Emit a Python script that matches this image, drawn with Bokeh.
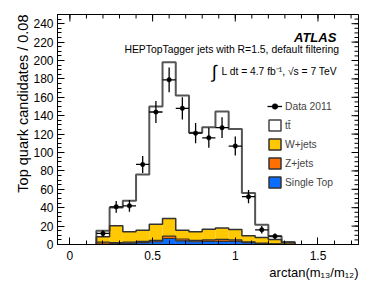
import numpy as np
from bokeh.plotting import figure
from bokeh.models import (Range1d, FixedTicker, Label, Legend, LegendItem,
                          NumeralTickFormatter, Title)
from bokeh.embed import file_html
from bokeh.resources import INLINE

# ---------------- data ----------------
bin_edges = [0.16, 0.24, 0.32, 0.40, 0.48, 0.56, 0.64, 0.72, 0.80, 0.88, 0.96, 1.04, 1.12, 1.20, 1.28, 1.36]
single_top = [0.5, 1.0, 1.5, 2.0, 3.0, 6.5, 4.0, 3.0, 3.5, 3.5, 3.5, 2.0, 1.0, 0.5, 0.2]
z_jets = [2.0, 1.0, 1.0, 1.5, 1.5, 2.5, 2.0, 1.5, 1.5, 2.0, 1.5, 1.0, 0.5, 0.3, 0.1]
w_jets = [5.8, 18.3, 11.3, 12.1, 17.5, 19.3, 9.6, 9.3, 11.7, 12.3, 11.3, 6.4, 6.1, 4.6, 1.9]
ttbar = [6.7, 20.0, 33.7, 60.4, 128.0, 169.7, 146.4, 107.7, 110.8, 126.7, 109.2, 46.6, 13.9, 3.6, 0.5]
data_2011 = [12, 41, 42, 87, 144, 179, 148, 121, 116, 127, 107, 52, 16, 9]

x_major_ticks = [0, 0.5, 1.0, 1.5]
x_minor_ticks = [round(0.1 * i, 1) for i in range(0, 18)]
y_major_ticks = [0, 20, 40, 60, 80, 100, 120, 140, 160, 180, 200, 220, 240]
y_minor_ticks = list(range(0, 251, 5))

x_title = "arctan(m\u2081\u2083/m\u2081\u2082)"
y_title = "Top quark candidates / 0.08"
legend_labels = ["Data 2011", "t\u0074\u0304", "W+jets", "Z+jets", "Single Top"]
colors = {"ttbar": "#ffffff", "w": "#ffc800", "z": "#ff7000", "st": "#0b6dff"}

FONT = "Liberation Sans"
X0, X1, Y0, Y1 = -0.075, 1.745, 0.0, 250.0

# ---------------- figure ----------------
p = figure(width=382, height=287, output_backend="svg", toolbar_location=None,
           x_range=Range1d(X0, X1), y_range=Range1d(Y0, Y1),
           min_border_left=57, min_border_right=24, min_border_top=14, min_border_bottom=43)
p.xgrid.visible = False
p.ygrid.visible = False
p.outline_line_color = "black"
p.outline_line_width = 1
p.background_fill_color = "white"
p.border_fill_color = "white"

edges = np.array(bin_edges)
lefts, rights = edges[:-1], edges[1:]
c1 = np.array(single_top)
c2 = c1 + np.array(z_jets)
c3 = c2 + np.array(w_jets)
c4 = c3 + np.array(ttbar)


def step_path(vals):
    xs, ys = [edges[0]], [0.0]
    for i, v in enumerate(vals):
        xs += [edges[i], edges[i + 1]]
        ys += [v, v]
    xs.append(edges[-1]); ys.append(0.0)
    return xs, ys


layers = [(c4, colors["ttbar"], "#555555", 2.0),
          (c3, colors["w"], "#333333", 1.5),
          (c2, colors["z"], "#333333", 1.2),
          (c1, colors["st"], "#333333", 1.2)]
for vals, fc, lc, lw in layers:
    p.quad(left=lefts, right=rights, bottom=0, top=vals, fill_color=fc, line_color=None)
for vals, fc, lc, lw in layers:
    xs, ys = step_path(vals)
    p.line(xs, ys, line_color=lc, line_width=lw)

# data points
nd = len(data_2011)
xc = (lefts[:nd] + rights[:nd]) / 2
yd = np.array(data_2011, dtype=float)
err = np.sqrt(yd)
vseg = p.segment(x0=xc, y0=yd - err, x1=xc, y1=yd + err, line_color="black", line_width=1.3)
hseg = p.segment(x0=lefts[:nd], y0=yd, x1=rights[:nd], y1=yd, line_color="black", line_width=1.3)
dots = p.scatter(xc, yd, size=4.5, marker="circle", fill_color="black", line_color="black", line_width=0.5)

# legend swatches (drawn off-range so only the legend shows them)
def swatch(fc, lc):
    return p.quad(left=[X0 - 1], right=[X0 - 0.9], top=[1], bottom=[0],
                  fill_color=fc, line_color=lc, line_width=1.5)

leg_tt = swatch(colors["ttbar"], "#444444")
leg_w = swatch(colors["w"], "#333333")
leg_z = swatch(colors["z"], "#333333")
leg_st = swatch(colors["st"], "#333333")

legend = Legend(items=[
    LegendItem(label=legend_labels[0], renderers=[hseg, dots]),
    LegendItem(label=legend_labels[1], renderers=[leg_tt]),
    LegendItem(label=legend_labels[2], renderers=[leg_w]),
    LegendItem(label=legend_labels[3], renderers=[leg_z]),
    LegendItem(label=legend_labels[4], renderers=[leg_st]),
], location=(210, 55), glyph_width=15, glyph_height=14, label_height=14, spacing=5,
    padding=0, margin=0, border_line_color=None, background_fill_alpha=0,
    label_text_font=FONT, label_text_font_size="10.3px", label_standoff=3)
p.add_layout(legend)

# ---------------- axes ----------------
for ax in (p.xaxis[0], p.yaxis[0]):
    ax.major_tick_in = 7
    ax.major_tick_out = 0
    ax.minor_tick_in = 4
    ax.minor_tick_out = 0
    ax.axis_line_color = "black"
    ax.major_tick_line_color = "black"
    ax.minor_tick_line_color = "black"
    ax.major_label_text_font = FONT
    ax.major_label_text_font_size = "12px"
    ax.major_label_text_color = "black"

xa, ya = p.xaxis[0], p.yaxis[0]
xa.ticker = FixedTicker(ticks=x_major_ticks, minor_ticks=x_minor_ticks)
xa.formatter = NumeralTickFormatter(format="0.[0]")
xa.major_label_standoff = 6
ya.ticker = FixedTicker(ticks=y_major_ticks, minor_ticks=y_minor_ticks)
ya.major_label_standoff = 4

# axis titles as side-panel titles (right / top aligned like the reference)
p.add_layout(Title(text=x_title, align="right", text_font=FONT, text_font_size="13px",
                   text_font_style="normal", text_color="black", standoff=0, offset=0), "below")
p.add_layout(Title(text=y_title, align="right", text_font=FONT, text_font_size="14.5px",
                   text_font_style="normal", text_color="black", standoff=0, offset=0), "left")

# ticks on top and right edges of the frame
tick_len_y, minor_len_y = 7 / 0.92, 4 / 0.92
tick_len_x, minor_len_x = 7 / 165.7, 4 / 165.7
p.segment(x0=x_major_ticks, y0=[Y1 - tick_len_y] * len(x_major_ticks), x1=x_major_ticks,
          y1=[Y1] * len(x_major_ticks), line_color="black", line_width=1)
p.segment(x0=x_minor_ticks, y0=[Y1 - minor_len_y] * len(x_minor_ticks), x1=x_minor_ticks,
          y1=[Y1] * len(x_minor_ticks), line_color="black", line_width=1)
p.segment(x0=[X1 - tick_len_x] * len(y_major_ticks), y0=y_major_ticks, x1=[X1] * len(y_major_ticks),
          y1=y_major_ticks, line_color="black", line_width=1)
p.segment(x0=[X1 - minor_len_x] * len(y_minor_ticks), y0=y_minor_ticks, x1=[X1] * len(y_minor_ticks),
          y1=y_minor_ticks, line_color="black", line_width=1)

# ---------------- text ----------------
def dx(px):
    return X0 + (px - 57.3) / 165.7


def dy(py):
    return (244.3 - py) / 0.92


def lab(text, px, py, size, align="left", baseline="middle", style="normal"):
    p.add_layout(Label(x=dx(px), y=dy(py), text=text, text_font=FONT, text_font_size=size,
                       text_align=align, text_baseline=baseline, text_font_style=style,
                       text_color="black"))

lab("ATLAS", 336.7, 37.5, "13px", align="right", baseline="alphabetic", style="bold italic")
lab("HEPTopTagger jets with R=1.5, default filtering", 339.3, 49, "10.4px", align="right")
lab("\u222b", 214.5, 71.5, "18px", align="center")
lab("L dt = 4.7 fb\u207b\u00b9, \u221as = 7 TeV", 337.5, 71.5, "10.3px", align="right")

open("out.html", "w").write(file_html(p, INLINE))
